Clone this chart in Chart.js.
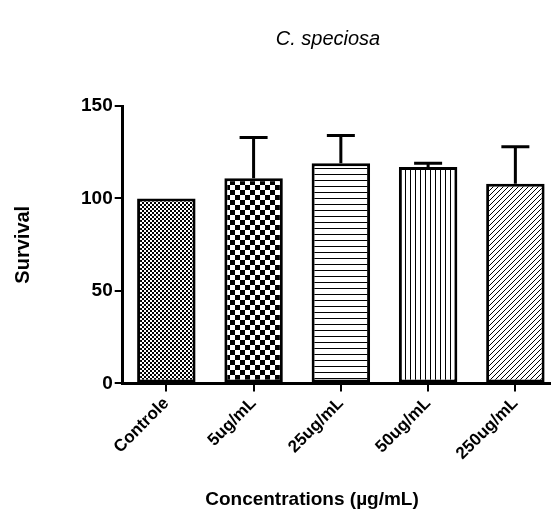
<!DOCTYPE html>
<html>
<head>
<meta charset="utf-8">
<script src="https://cdn.jsdelivr.net/npm/chart.js@4"></script>
<style>
  html, body { margin: 0; padding: 0; background: #fff; overflow: hidden; }
</style>
</head>
<body>
<canvas id="myChart" width="565" height="519"></canvas>
<script>
// Datos:
const categorias = ['Controle', '5ug/mL', '25ug/mL', '50ug/mL', '250ug/mL'];
const medias = [100, 111, 119, 117, 108];
const errores = [0, 22, 15, 2, 20];
const ticksY = [0, 50, 100, 150];
const tituloGrafico = 'C. speciosa';
const tituloX = 'Concentrations (\u00b5g/mL)';
const tituloY = 'Survival';

// Creamos los patrones de relleno de cada barra:
const hacerPatron = (tam, dibujar) => {
  const c = document.createElement('canvas');
  c.width = tam;
  c.height = tam;
  const cx = c.getContext('2d');
  cx.fillStyle = '#fff';
  cx.fillRect(0, 0, tam, tam);
  cx.fillStyle = '#000';
  cx.strokeStyle = '#000';
  dibujar(cx, tam);
  return document.createElement('canvas').getContext('2d').createPattern(c, 'repeat');
};

const patrones = [
  hacerPatron(4, (cx) => { cx.fillRect(0, 0, 2, 2); cx.fillRect(2, 2, 2, 2); }),
  hacerPatron(10, (cx) => { cx.fillRect(0, 0, 5, 5); cx.fillRect(5, 5, 5, 5); }),
  hacerPatron(6, (cx, t) => { cx.fillRect(0, 0, t, 1); }),
  hacerPatron(5, (cx, t) => { cx.fillRect(0, 0, 1, t); }),
  hacerPatron(5, (cx, t) => {
    cx.lineWidth = 1;
    cx.beginPath();
    cx.moveTo(-1, t + 1); cx.lineTo(t + 1, -1);
    cx.moveTo(-1, 1); cx.lineTo(1, -1);
    cx.moveTo(t - 1, t + 1); cx.lineTo(t + 1, t - 1);
    cx.stroke();
  }),
];

// Plugin para las barras de error (solo hacia arriba):
const barrasError = {
  id: 'barrasError',
  afterDatasetsDraw(chart) {
    const ctx = chart.ctx;
    const meta = chart.getDatasetMeta(0);
    const escalaY = chart.scales.y;
    ctx.save();
    ctx.strokeStyle = '#000';
    ctx.lineWidth = 3;
    meta.data.forEach((barra, i) => {
      if (!errores[i]) return;
      const yArriba = escalaY.getPixelForValue(medias[i] + errores[i]);
      const yBase = escalaY.getPixelForValue(medias[i]);
      ctx.beginPath();
      ctx.moveTo(barra.x, yBase);
      ctx.lineTo(barra.x, yArriba);
      ctx.moveTo(barra.x - 14, yArriba);
      ctx.lineTo(barra.x + 14, yArriba);
      ctx.stroke();
    });
    ctx.restore();
  }
};

// Plugin para los titulos:
const titulos = {
  id: 'titulos',
  afterDraw(chart) {
    const ctx = chart.ctx;
    ctx.save();
    ctx.fillStyle = '#000';
    ctx.textAlign = 'center';
    ctx.textBaseline = 'middle';
    ctx.font = 'italic 20px Arial, "Liberation Sans"';
    ctx.fillText(tituloGrafico, 328, 39);
    ctx.font = 'bold 19px Arial, "Liberation Sans"';
    ctx.fillText(tituloX, 312, 500);
    ctx.restore();
  }
};

let myChart = document.getElementById('myChart');
let grafico = new Chart(myChart, {
  type: 'bar',
  data: {
    labels: categorias,
    datasets: [
      {
        data: medias,
        backgroundColor: patrones,
        borderColor: '#000',
        borderWidth: 3,
        borderSkipped: false,
        barPercentage: 0.67,
        categoryPercentage: 1,
      },
    ],
  },
  options: {
    responsive: false,
    animation: false,
    layout: {
      padding: { top: 106, left: 11, right: 6, bottom: 53 },
    },
    plugins: {
      legend: { display: false },
      tooltip: { enabled: false },
    },
    scales: {
      x: {
        grid: {
          display: true,
          drawOnChartArea: false,
          offset: false,
          color: '#000',
          lineWidth: 2,
          tickLength: 8,
        },
        border: { color: '#000', width: 3 },
        ticks: {
          color: '#000',
          minRotation: 45,
          maxRotation: 45,
          padding: 2,
          font: { family: 'Arial, "Liberation Sans"', size: 17, weight: 'bold' },
        },
      },
      y: {
        min: 0,
        max: 150,
        afterBuildTicks: (escala) => {
          escala.ticks = ticksY.map((v) => ({ value: v }));
        },
        grid: {
          display: true,
          drawOnChartArea: false,
          color: '#000',
          lineWidth: 2,
          tickLength: 8,
        },
        border: { color: '#000', width: 3 },
        ticks: {
          color: '#000',
          padding: 2,
          font: { family: 'Arial, "Liberation Sans"', size: 19, weight: 'bold' },
        },
        title: {
          display: true,
          text: tituloY,
          color: '#000',
          padding: { top: 0, bottom: 44 },
          font: { family: 'Arial, "Liberation Sans"', size: 20, weight: 'bold' },
        },
      },
    },
  },
  plugins: [barrasError, titulos],
});
</script>
</body>
</html>
